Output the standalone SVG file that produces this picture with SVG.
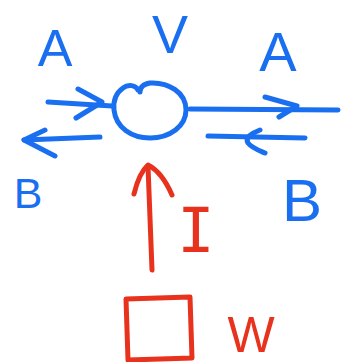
<svg xmlns="http://www.w3.org/2000/svg" width="342" height="362" viewBox="0 0 342 362">
  <style>
    .blue { stroke: #1a6ff0; fill: none; stroke-width: 5; stroke-linecap: round; stroke-linejoin: round; }
    .red { stroke: #e8321e; fill: none; stroke-width: 5; stroke-linecap: round; stroke-linejoin: round; }
    .lbl { font-family: "Liberation Sans", Arial, sans-serif; text-anchor: middle; }
    .lb { fill: #1a6ff0; }
    .lr { fill: #e8321e; }
    .mono { font-family: "DejaVu Sans Mono", "Liberation Mono", monospace; }
  </style>
  <rect width="342" height="362" fill="#ffffff"/>

  <!-- vertex circle -->
  <g id="vertex">
    <path class="blue" d="M 138 90 C 136 85 128 84 123 88 C 116 93 113 100 114 110 C 116 128 132 138 150 138 C 170 138 186 126 186 110 C 186 92 168 82 150 83 C 144 84 140 87 140 92"/>
  </g>

  <!-- source box -->
  <g id="source">
    <path class="red" d="M 126 299 L 190 297 L 192 358 L 128 360 Z"/>
  </g>

  <g id="connectors">
    <!-- incoming A (left) -->
    <path class="blue" d="M 48 102 L 112 106"/>
    <path class="blue" d="M 78 89 L 102 102 L 76 118"/>
    <!-- outgoing B (left) -->
    <path class="blue" d="M 100 137 L 24 140"/>
    <path class="blue" d="M 45 130 L 24 140 L 55 156"/>
    <!-- outgoing A (right) -->
    <path class="blue" d="M 190 109 L 338 110"/>
    <path class="blue" d="M 265 97 L 297 106 L 279 117"/>
    <!-- incoming B (right) -->
    <path class="blue" d="M 305 138 L 208 136"/>
    <path class="blue" d="M 260 130 C 250 134 245 138 248 143 C 252 148 258 150 265 153"/>
    <!-- current I -->
    <path class="red" d="M 152 270 L 148 166"/>
    <path class="red" d="M 134 194 Q 139 173 148 165 Q 162 172 172 195"/>
  </g>

  <g id="labels">
    <text class="lbl lb" x="55" y="66" font-size="52">A</text>
    <text class="lbl lb" x="170" y="53" font-size="54">V</text>
    <text class="lbl lb" x="278" y="71" font-size="56">A</text>
    <text class="lbl lb" x="28" y="208" font-size="43">B</text>
    <text class="lbl lb" x="302" y="221" font-size="60">B</text>
    <text class="lbl lr mono" x="196" y="252" font-size="62">I</text>
    <text class="lbl lr" x="251" y="352" font-size="50">W</text>
  </g>
</svg>
